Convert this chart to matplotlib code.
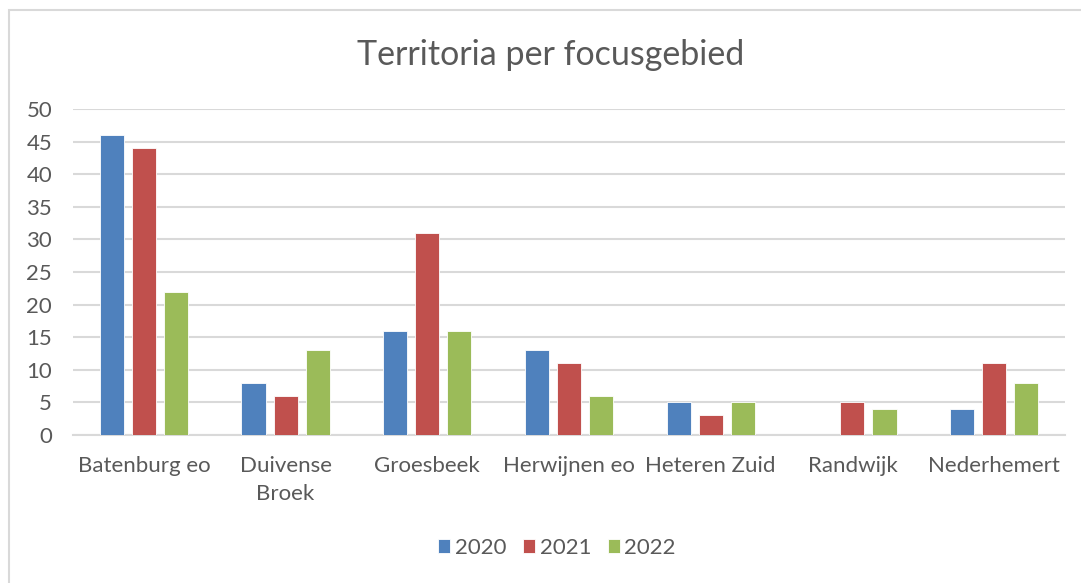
import matplotlib.pyplot as plt
import numpy as np
from matplotlib.patches import Rectangle

# data
categories = ["Batenburg eo", "Duivense\nBroek", "Groesbeek", "Herwijnen eo",
              "Heteren Zuid", "Randwijk", "Nederhemert"]
years = ["2020", "2021", "2022"]
v2020 = [46, 8, 16, 13, 5, 0, 4]
v2021 = [44, 6, 31, 11, 3, 5, 11]
v2022 = [22, 13, 16, 6, 5, 4, 8]
colors = ["#4F81BD", "#C0504D", "#9BBB59"]

plt.rcParams["font.family"] = ["Lato", "DejaVu Sans"]
text_color = "#595959"

fig = plt.figure(figsize=(10.81, 5.83), dpi=100)
ax = fig.add_axes([73 / 1081, 1 - 435 / 583, (1065 - 73) / 1081, (435 - 109) / 583])

# chart border (light grey, runs off right/bottom edge like the screenshot)
fig.patches.append(Rectangle((9 / 1081, -0.05), 1.2, 1 - 10 / 583 + 0.05,
                             transform=fig.transFigure, fill=False,
                             edgecolor="#D9D9D9", linewidth=1.5))

x = np.arange(len(categories)) + 0.5
w = 0.17
step = 0.226
for i, (vals, c, lab) in enumerate(zip([v2020, v2021, v2022], colors, years)):
    ax.bar(x + (i - 1) * step, vals, width=w, color=c, label=lab,
           edgecolor="white", linewidth=0.6, zorder=3)

ax.set_xlim(0, len(categories))
ax.set_ylim(0, 50)
ax.set_yticks(range(0, 51, 5))
ax.set_xticks(x)
ax.set_xticklabels(categories, linespacing=1.5)
ax.yaxis.grid(True, color="#D9D9D9", linewidth=1.5, zorder=0)
for s in ["top", "right", "left"]:
    ax.spines[s].set_visible(False)
ax.spines["bottom"].set_color("#D9D9D9")
ax.spines["bottom"].set_linewidth(1.5)
ax.tick_params(axis="both", length=0, labelsize=16, colors=text_color)
ax.tick_params(axis="x", pad=15)
ax.tick_params(axis="y", pad=15)

fig.text(551 / 1081, 1 - 55 / 583, "Territoria per focusgebied", ha="center", va="center",
         fontsize=24.5, color=text_color)

fig.legend(loc="center", bbox_to_anchor=(557 / 1081, 1 - 548 / 583), ncol=3, frameon=False,
           fontsize=16, labelcolor=text_color, handlelength=0.55, handleheight=0.55,
           handletextpad=0.2, columnspacing=0.75)

fig.savefig("out.png", dpi=100, facecolor="white")
